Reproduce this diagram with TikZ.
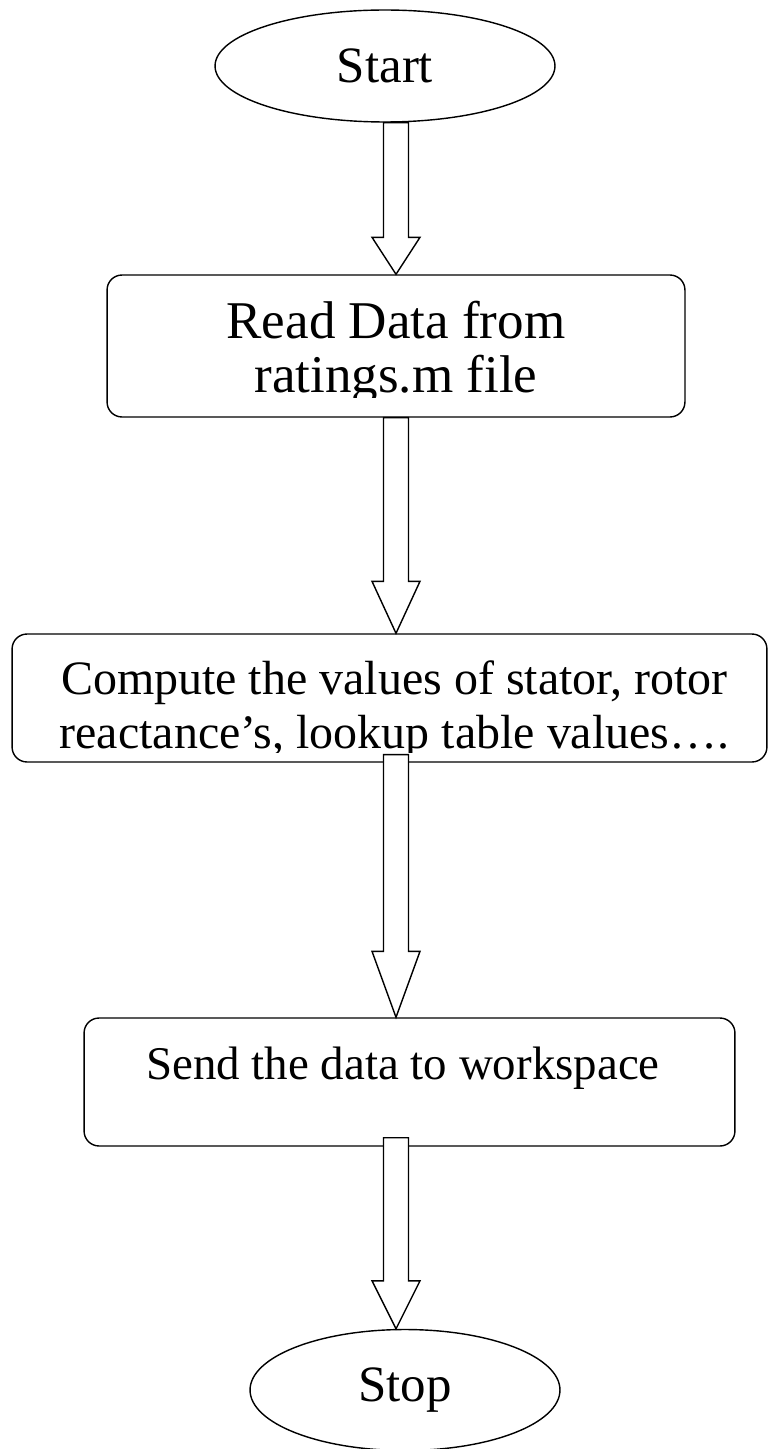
\documentclass[tikz,border=0pt]{standalone}
\usepackage{fontspec}
\setmainfont{Liberation Serif}
\usetikzlibrary{calc,shapes.geometric}

\tikzset{
  terminal/.style={ellipse,draw,line width=0.8pt,inner sep=0pt,font=\fontsize{29}{31}\selectfont},
  stepbox/.style={rectangle,rounded corners=0.3cm,draw,line width=0.8pt,inner sep=0pt},
  boxtext/.style={inner sep=0pt,align=center,anchor=base},
  arrowbody/.style={draw,line width=0.8pt,fill=white,line join=miter}
}
% hollow block arrow: from, to, head length, start overlap
\newcommand{\blockarrow}[4]{%
  \path[arrowbody] ($(axis |- #1)+(-12.5,-#4)$) -- ($(axis |- #2)+(-12.5,-#3)$)
    -- ($(axis |- #2)+(-24,-#3)$) -- (axis |- #2) -- ($(axis |- #2)+(24,-#3)$)
    -- ($(axis |- #2)+(12.5,-#3)$) -- ($(axis |- #1)+(12.5,-#4)$) -- cycle;}

\begin{document}
\begin{tikzpicture}[x=0.02cm,y=-0.02cm]
\path[use as bounding box] (0,0) rectangle (769,1449);
\coordinate (axis) at (396,0);

\node[terminal,minimum width=6.8cm,minimum height=2.24cm] (start) at (385,66) {Start};

% boxes, text set apart so that the last line is cut like in the drawing
\node[stepbox,minimum width=11.56cm,minimum height=2.84cm] (read) at (396,346) {};
\begin{scope}
  \clip (read.north west) rectangle ($(read.east)+(0,51)$);
  \node[boxtext,font=\fontsize{30.2}{30.2}\selectfont] (read text) at (396,392) {Read Data from\\ratings.m file};
\end{scope}

\node[stepbox,minimum width=15.1cm,minimum height=2.56cm] (compute) at (389.5,698) {};
\begin{scope}
  \clip (compute.north west) rectangle ($(compute.east)+(0,54)$);
  \node[boxtext,font=\fontsize{27.3}{30.7}\selectfont] (compute text) at (394.5,748) {Compute the values of stator, rotor\\reactance’s, lookup table values….};
\end{scope}

\node[stepbox,minimum width=13.02cm,minimum height=2.56cm] (send) at (409.5,1082) {};
\node[boxtext,font=\fontsize{26.7}{31}\selectfont] (send text) at (403,1079) {Send the data to workspace};

\node[terminal,minimum width=6.2cm,minimum height=2.42cm] (stop) at (405,1390) {Stop};

\blockarrow{start.south}{read.north}{37}{0}
\blockarrow{read.south}{compute.north}{52}{0}
\blockarrow{compute.south}{send.north}{66}{8}
\blockarrow{send.south}{stop.north}{48}{9}
\end{tikzpicture}
\end{document}
